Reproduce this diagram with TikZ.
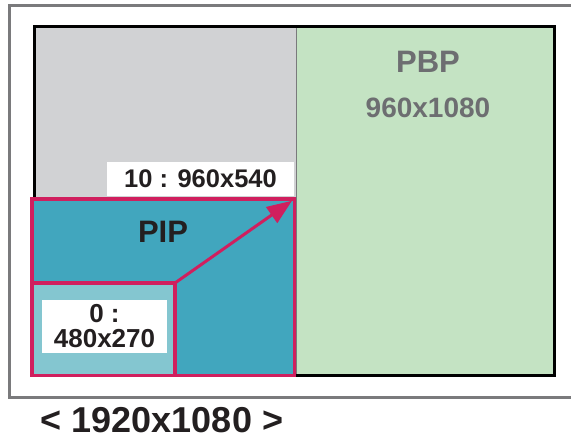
\documentclass[tikz,border=0pt]{standalone}
\usepackage{fontspec}
\setmainfont{Liberation Sans}
\usetikzlibrary{arrows.meta}
\definecolor{framegray}{HTML}{7A7A7C}
\definecolor{areagray}{HTML}{D1D2D4}
\definecolor{pbpgreen}{HTML}{C4E3C3}
\definecolor{pipteal}{HTML}{41A6BE}
\definecolor{lightteal}{HTML}{84C6D0}
\definecolor{magentaline}{HTML}{D01F5E}
\definecolor{textgray}{HTML}{6D6E71}
\definecolor{textblack}{HTML}{231F20}
\tikzset{
  region/.style={rectangle, inner sep=0pt, outer sep=0pt, anchor=north west},
  pipbox/.style={region, draw=magentaline, line width=3.5pt},
  labelbox/.style={rectangle, fill=white, inner sep=0pt, outer sep=0pt, text=textblack, align=center},
  smalltext/.style={inner sep=0pt, text=textblack, font=\bfseries\fontsize{26}{26}\selectfont},
  bigtext/.style={inner sep=0pt, font=\bfseries\fontsize{31}{31}\selectfont},
}
\begin{document}
\begin{tikzpicture}[x=1pt,y=-1pt]
\useasboundingbox (0,0) rectangle (571,439);
% outer frame
\draw[framegray, line width=3pt] (571,5.5) -- (9,5.5) -- (9,397) -- (571,397);
% screen areas
\node[region, fill=areagray, minimum width=262pt, minimum height=171pt] (gray) at (34,26) {};
\node[region, fill=pbpgreen, minimum width=258pt, minimum height=349pt] (pbp) at (296,26) {};
\draw[framegray, line width=0.8pt] (gray.north east) -- (gray.north east |- pbp.south);
\node[region, draw=black, line width=3pt, minimum width=520pt, minimum height=349pt] (screen) at (34,26) {};
% labels
\node[labelbox, minimum width=187pt, minimum height=34pt, font=\bfseries\fontsize{25.5}{25.5}\selectfont] (lab10) at (200.5,179) {10 : 960x540};
\node[bigtext, text=textgray] (pbptxt) at (428,62) {PBP};
\node[inner sep=0pt, text=textgray, font=\bfseries\fontsize{28}{28}\selectfont] (pbpres) at (428,108) {960x1080};
% PIP
\node[pipbox, fill=pipteal, minimum width=262.5pt, minimum height=176.5pt] (pip) at (32,199) {};
\node[pipbox, fill=lightteal, minimum width=143pt, minimum height=92.5pt] (small) at (32,283) {};
\node[bigtext, text=textblack] (piptxt) at (163,232) {PIP};
\node[labelbox, minimum width=125pt, minimum height=53pt] (lab0) at (104.5,326.5) {};
\node[smalltext] (lab0a) at (104.5,314) {0 :};
\node[smalltext] (lab0b) at (104.5,338.5) {480x270};
\draw[magentaline, line width=3pt, shorten >=3pt, -{Triangle[length=25pt,width=19pt]}] (small.north east) -- (pip.north east);
% caption
\node[inner sep=0pt, text=textblack, font=\bfseries\fontsize{36}{36}\selectfont] (caption) at (162,420) {< 1920x1080 >};
\end{tikzpicture}
\end{document}
